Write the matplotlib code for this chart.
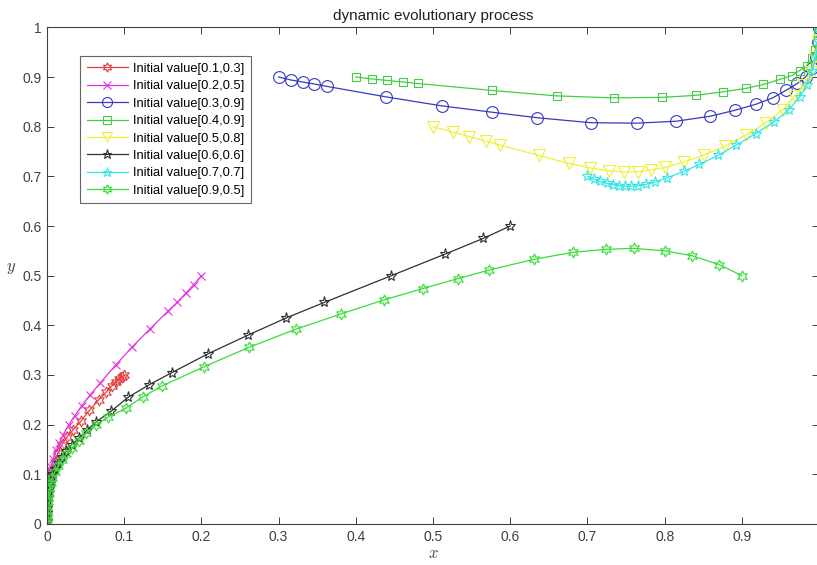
import matplotlib.pyplot as plt

plt.rcParams['font.family'] = ['Liberation Sans', 'DejaVu Sans']
plt.rcParams['mathtext.fontset'] = 'cm'

labels = ['Initial value[0.1,0.3]', 'Initial value[0.2,0.5]', 'Initial value[0.3,0.9]',
          'Initial value[0.4,0.9]', 'Initial value[0.5,0.8]', 'Initial value[0.6,0.6]',
          'Initial value[0.7,0.7]', 'Initial value[0.9,0.5]']

# [0.1,0.3] -> origin
x1 = [0.100, 0.097, 0.093, 0.089, 0.084, 0.077, 0.067, 0.055, 0.044, 0.034, 0.026, 0.019,
      0.014, 0.010, 0.007, 0.005, 0.0035, 0.0024, 0.0016, 0.0010, 0.0006, 0.0003, 0.0001, 0.00003, 0.0]
y1 = [0.300, 0.296, 0.291, 0.285, 0.278, 0.266, 0.250, 0.229, 0.207, 0.190, 0.175, 0.159,
      0.142, 0.125, 0.109, 0.096, 0.084, 0.073, 0.062, 0.052, 0.043, 0.033, 0.022, 0.014, 0.004]

# [0.2,0.5] -> origin
x2 = [0.200, 0.190, 0.180, 0.169, 0.157, 0.133, 0.110, 0.089, 0.069, 0.056, 0.045, 0.036,
      0.028, 0.021, 0.016, 0.012, 0.008, 0.0055, 0.0037, 0.0024, 0.0015, 0.0009, 0.0005, 0.0002, 0.00005, 0.0]
y2 = [0.500, 0.482, 0.465, 0.447, 0.429, 0.392, 0.356, 0.320, 0.284, 0.260, 0.238, 0.218,
      0.199, 0.180, 0.163, 0.148, 0.130, 0.114, 0.100, 0.087, 0.075, 0.064, 0.053, 0.040, 0.025, 0.006]

# [0.3,0.9] -> (1,1)
x3 = [0.300, 0.316, 0.331, 0.346, 0.363, 0.439, 0.511, 0.577, 0.635, 0.704, 0.764, 0.815,
      0.859, 0.891, 0.918, 0.940, 0.957, 0.972, 0.983, 0.991, 0.996, 0.999, 1.0]
y3 = [0.900, 0.894, 0.890, 0.886, 0.881, 0.860, 0.842, 0.829, 0.818, 0.808, 0.807, 0.811,
      0.821, 0.833, 0.845, 0.858, 0.873, 0.887, 0.901, 0.918, 0.940, 0.970, 0.998]

# [0.4,0.9] -> (1,1)
x4 = [0.400, 0.421, 0.441, 0.461, 0.480, 0.576, 0.660, 0.734, 0.796, 0.840, 0.875, 0.905,
      0.928, 0.949, 0.965, 0.975, 0.984, 0.991, 0.995, 0.998, 0.999, 1.0]
y4 = [0.900, 0.896, 0.893, 0.890, 0.887, 0.873, 0.862, 0.858, 0.859, 0.863, 0.870, 0.877,
      0.885, 0.895, 0.903, 0.913, 0.923, 0.938, 0.955, 0.972, 0.988, 1.0]

# [0.5,0.8] -> (1,1)
x5 = [0.500, 0.526, 0.547, 0.568, 0.587, 0.637, 0.676, 0.703, 0.728, 0.747, 0.765, 0.782,
      0.801, 0.825, 0.851, 0.878, 0.905, 0.931, 0.953, 0.968, 0.980, 0.989, 0.995, 0.999, 1.0]
y5 = [0.800, 0.789, 0.780, 0.771, 0.763, 0.742, 0.726, 0.717, 0.711, 0.709, 0.709, 0.713,
      0.718, 0.729, 0.743, 0.761, 0.783, 0.808, 0.834, 0.861, 0.884, 0.910, 0.940, 0.972, 0.998]

# [0.6,0.6] -> origin
x6 = [0.600, 0.565, 0.515, 0.446, 0.359, 0.310, 0.260, 0.209, 0.162, 0.132, 0.105, 0.083,
      0.064, 0.052, 0.042, 0.032, 0.025, 0.019, 0.014, 0.010, 0.007, 0.005, 0.0033, 0.0021,
      0.0013, 0.0008, 0.0004, 0.00015, 0.00004, 0.0]
y6 = [0.600, 0.575, 0.543, 0.500, 0.446, 0.415, 0.380, 0.343, 0.305, 0.280, 0.255, 0.227,
      0.206, 0.189, 0.174, 0.160, 0.147, 0.135, 0.123, 0.111, 0.100, 0.090, 0.080, 0.070,
      0.061, 0.053, 0.043, 0.032, 0.022, 0.005]

# [0.7,0.7] -> (1,1)
x7 = [0.700, 0.708, 0.716, 0.725, 0.733, 0.741, 0.749, 0.757, 0.766, 0.776, 0.788, 0.803,
      0.825, 0.845, 0.869, 0.893, 0.918, 0.942, 0.961, 0.975, 0.984, 0.991, 0.996, 0.999, 1.0]
y7 = [0.700, 0.695, 0.690, 0.686, 0.683, 0.681, 0.680, 0.680, 0.681, 0.684, 0.689, 0.697,
      0.710, 0.724, 0.742, 0.763, 0.786, 0.810, 0.834, 0.860, 0.884, 0.912, 0.942, 0.972, 0.998]

# [0.9,0.5] -> origin
x8 = [0.900, 0.871, 0.836, 0.800, 0.760, 0.724, 0.681, 0.631, 0.572, 0.532, 0.487, 0.436,
      0.381, 0.322, 0.262, 0.204, 0.149, 0.124, 0.102, 0.079, 0.063, 0.051, 0.041, 0.032,
      0.025, 0.019, 0.014, 0.010, 0.007, 0.0048, 0.0032, 0.0021, 0.0014, 0.0009, 0.0005,
      0.00025, 0.0001, 0.00003, 0.0]
y8 = [0.500, 0.522, 0.540, 0.550, 0.555, 0.553, 0.547, 0.533, 0.511, 0.494, 0.474, 0.451,
      0.423, 0.392, 0.356, 0.317, 0.278, 0.256, 0.233, 0.215, 0.199, 0.184, 0.168, 0.153,
      0.140, 0.128, 0.116, 0.104, 0.093, 0.082, 0.072, 0.062, 0.053, 0.044, 0.035,
      0.026, 0.017, 0.008, 0.002]

xs = [x1, x2, x3, x4, x5, x6, x7, x8]
ys = [y1, y2, y3, y4, y5, y6, y7, y8]
colors = ['#e04040', '#e035e0', '#3838c0', '#45cc45', '#f0f035', '#303030', '#35e5e5', '#38dd38']
markers = [(6, 1, 0), 'x', 'o', 's', 'v', '*', '*', (6, 1, 0)]
msizes = [8, 6, 8.5, 6, 8.5, 8, 8, 8]

fig = plt.figure(figsize=(8.17, 5.65), dpi=100)
ax = fig.add_axes([0.0575, 0.0726, 0.945, 0.879])

for x, y, c, m, ms, lab in zip(xs, ys, colors, markers, msizes, labels):
    ax.plot(x, y, color=c, marker=m, ms=ms, mfc='none', mec=c, mew=0.8, lw=0.9, label=lab)

ax.set_xlim(0, 1)
ax.set_ylim(0, 1)
ax.set_xticks([0, 0.1, 0.2, 0.3, 0.4, 0.5, 0.6, 0.7, 0.8, 0.9, 1.0])
ax.set_xticklabels(['0', '0.1', '0.2', '0.3', '0.4', '0.5', '0.6', '0.7', '0.8', '0.9', ''])
ax.set_yticks([0, 0.1, 0.2, 0.3, 0.4, 0.5, 0.6, 0.7, 0.8, 0.9, 1.0])
ax.set_yticklabels(['0', '0.1', '0.2', '0.3', '0.4', '0.5', '0.6', '0.7', '0.8', '0.9', '1'])
ax.tick_params(direction='in', top=True, right=True, length=5, width=0.7,
               labelsize=10, colors='#404040', pad=4)
for s in ax.spines.values():
    s.set_color('#404040')
    s.set_linewidth(0.8)

ax.set_title('dynamic evolutionary process', fontsize=11, color='#202020', pad=5)
ax.set_xlabel('$x$', fontsize=12, color='#404040', labelpad=2)
ax.set_ylabel('$y$', fontsize=12, color='#404040', rotation=0, labelpad=8)

leg = ax.legend(loc='upper left', bbox_to_anchor=(0.043, 0.942), fontsize=9.3, frameon=True,
                fancybox=False, edgecolor='#404040', handlelength=3.2, labelspacing=0.42,
                borderpad=0.5, handletextpad=0.4, borderaxespad=0, markerscale=0.85)
leg.get_frame().set_linewidth(0.8)

fig.savefig('out.png', dpi=100)
